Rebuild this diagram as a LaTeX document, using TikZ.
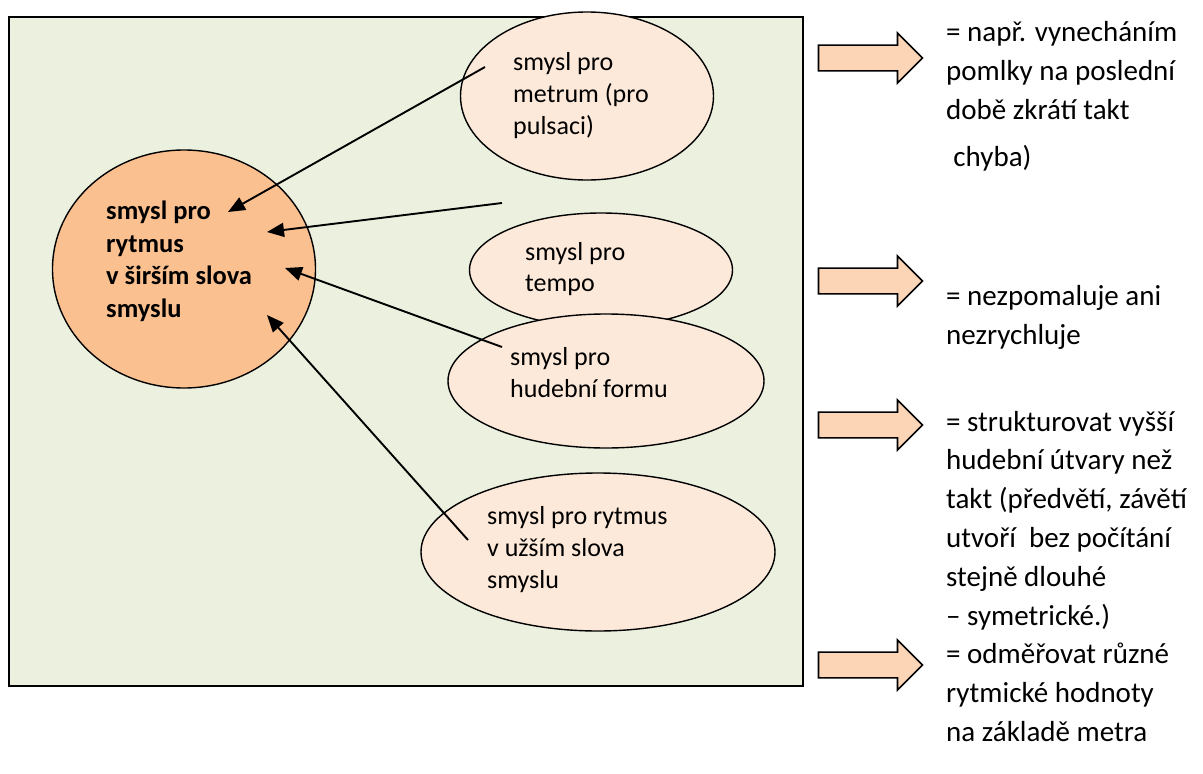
\documentclass[tikz,border=0pt]{standalone}
\usepackage{fontspec}
\setmainfont{Carlito}
\usetikzlibrary{
  shapes.geometric,
  shapes.arrows,
  arrows.meta,
  positioning
}
\definecolor{panelgreen}{HTML}{EBF1DE}
\definecolor{mainorange}{HTML}{FAC090}
\definecolor{palepeach}{HTML}{FDE9D9}
\definecolor{arrowpeach}{HTML}{FBD5B5}

\begin{document}
\begin{tikzpicture}[
    x=1pt, y=-1pt,
    every node/.style={font=\fontsize{26}{32}\selectfont},
    topic/.style={ellipse, draw=black, line width=1.4pt, fill=palepeach,
                  inner sep=0pt},
    maintopic/.style={topic, fill=mainorange},
    topictext/.style={anchor=base west, align=left, inner sep=0pt},
    note/.style={anchor=base west, align=left, inner sep=0pt,
                 font=\fontsize{29}{38.8}\selectfont},
    fatarrow/.style={single arrow, draw=black, line width=1.6pt, fill=arrowpeach,
                     minimum height=104pt, minimum width=50pt,
                     inner xsep=0pt, inner ysep=12pt,
                     single arrow head extend=12pt, single arrow tip angle=90},
    feeds/.style={-{Triangle[length=17pt,width=14pt]}, line width=1.9pt},
]

\useasboundingbox (0,0) rectangle (1203,774);
\fill[white] (0,0) rectangle (1203,774);

% Panel
\draw[fill=panelgreen, line width=1.6pt] (9,17) rectangle (803,686);

% Main concept (text anchored at the baseline of its last line)
\node[maintopic, minimum width=263pt, minimum height=238pt] (rytmus) at (184,269) {};
\node[topictext, font=\fontsize{26.5}{32.5}\selectfont\bfseries] (rytmustext) at (106,317)
  {smysl pro\\rytmus\\v širším slova\\smyslu};

% Sub concepts
\node[topic, minimum width=253pt, minimum height=168pt] (metrum) at (587,96) {};
\node[topictext] (metrumtext) at (513,134) {smysl pro\\metrum (pro\\pulsaci)};

\node[topic, minimum width=263pt, minimum height=114pt] (tempo) at (601,270) {};
\node[topictext, font=\fontsize{26}{31}\selectfont] (tempotext) at (525,291) {smysl pro\\tempo};

\node[topic, minimum width=316pt, minimum height=134pt] (forma) at (606,381) {};
\node[topictext] (formatext) at (510,397) {smysl pro\\hudební formu};

\node[topic, minimum width=354pt, minimum height=158pt] (uzsi) at (598,552) {};
\node[topictext] (uzsitext) at (487,588) {smysl pro rytmus\\v užším slova\\smyslu};

% Arrow ends
\coordinate (m1) at (485,67);   \coordinate (r1) at (228,212);
\coordinate (m2) at (502,203);  \coordinate (r2) at (267,232);
\coordinate (m3) at (502,347);  \coordinate (r3) at (285,268);
\coordinate (m4) at (468,540);  \coordinate (r4) at (267,315);

\draw[feeds] (m1) -- (r1);
\draw[feeds] (m2) -- (r2);
\draw[feeds] (m3) -- (r3);
\draw[feeds] (m4) -- (r4);

% Block arrows
\node[fatarrow] (arrmetrum) at (864,58) {};
\node[fatarrow] (arrtempo)  at (864,281) {};
\node[fatarrow] (arrforma)  at (864,425) {};
\node[fatarrow] (arruzsi)   at (864,665) {};

% Explanations
\node[note] (metrumnote) at (946,166)
  {= např. vynecháním\\pomlky na poslední\\době zkrátí takt\\[8pt]\hspace{0.25em}chyba)};
\node[note] (temponote) at (946,344) {= nezpomaluje ani\\nezrychluje};
\node[note] (formanote) at (946,625)
  {= strukturovat vyšší\\hudební útvary než\\takt (předvětí, závětí\\utvoří\ \ bez počítání\\stejně dlouhé\\– symetrické.)};
\node[note] (uzsinote) at (946,741)
  {= odměřovat různé\\rytmické hodnoty\\na základě metra};

\end{tikzpicture}
\end{document}
